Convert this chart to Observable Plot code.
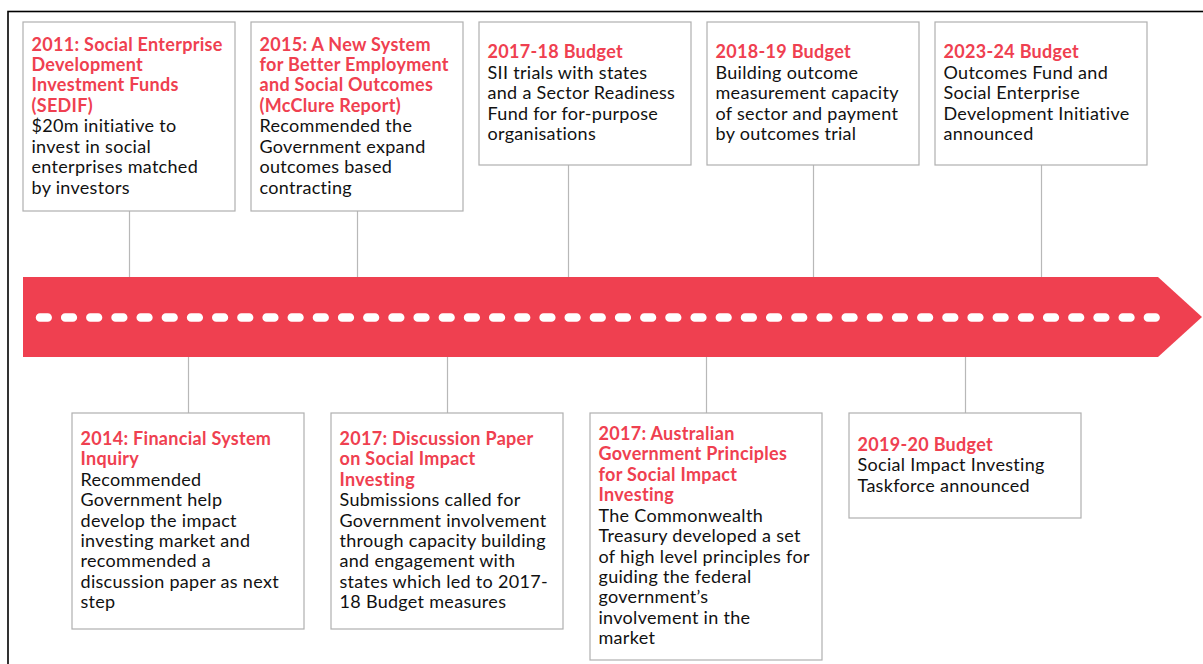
<!DOCTYPE html>
<html><head><meta charset="utf-8">
<script src="https://cdn.jsdelivr.net/npm/d3@7"></script>
<script src="https://cdn.jsdelivr.net/npm/@observablehq/plot@0.6"></script>
<style>html,body{margin:0;padding:0;background:#fff;overflow:hidden} svg text{letter-spacing:0.3px}</style>
</head><body><div id="chart"></div>
<script>
// ---- content (chronological) ----
const titles = [
  "2011: Social Enterprise\nDevelopment\nInvestment Funds\n(SEDIF)",
  "2014: Financial System\nInquiry",
  "2015: A New System\nfor Better Employment\nand Social Outcomes\n(McClure Report)",
  "2017: Discussion Paper\non Social Impact\nInvesting",
  "2017-18 Budget",
  "2017: Australian\nGovernment Principles\nfor Social Impact\nInvesting",
  "2018-19 Budget",
  "2019-20 Budget",
  "2023-24 Budget"
];
const bodies = [
  "$20m initiative to\ninvest in social\nenterprises matched\nby investors",
  "Recommended\nGovernment help\ndevelop the impact\ninvesting market and\nrecommended a\ndiscussion paper as next\nstep",
  "Recommended the\nGovernment expand\noutcomes based\ncontracting",
  "Submissions called for\nGovernment involvement\nthrough capacity building\nand engagement with\nstates which led to 2017-\n18 Budget measures",
  "SII trials with states\nand a Sector Readiness\nFund for for-purpose\norganisations",
  "The Commonwealth\nTreasury developed a set\nof high level principles for\nguiding the federal\ngovernment\u2019s\ninvolvement in the\nmarket",
  "Building outcome\nmeasurement capacity\nof sector and payment\nby outcomes trial",
  "Social Impact Investing\nTaskforce announced",
  "Outcomes Fund and\nSocial Enterprise\nDevelopment Initiative\nannounced"
];
const sides = ["top","bottom","top","bottom","top","bottom","top","bottom","top"];

// ---- layout (drawing geometry, px) ----
const W = 1203, H = 664;
const arrow = {x0: 23, x1: 1158, tip: 1202, yTop: 277, yBot: 357};
const topRow = {x0: 23, step: 228, w: 212, y: 22, h: [189,189,143,143,143], stem: [129,357,568,813,1041]};
const botRow = {x0: 72, step: 259, w: 232, y: 413, h: [216,216,247,105]};
const LH = 20.45, FS = 18;
const RED = "#ef4050";

let ti = 0, bi = 0;
const events = titles.map((t, i) => {
  const nt = t.split("\n").length, nb = bodies[i].split("\n").length;
  let box;
  if (sides[i] === "top") {
    const k = ti++;
    const x1 = topRow.x0 + k*topRow.step;
    box = {x1, x2: x1 + topRow.w, y1: topRow.y, y2: topRow.y + topRow.h[k], stem: topRow.stem[k], sy1: topRow.y + topRow.h[k], sy2: arrow.yTop};
  } else {
    const k = bi++;
    const x1 = botRow.x0 + k*botRow.step;
    box = {x1, x2: x1 + botRow.w, y1: botRow.y, y2: botRow.y + botRow.h[k], stem: x1 + botRow.w/2, sy1: arrow.yBot, sy2: botRow.y};
  }
  const cy = (box.y1 + box.y2)/2;
  const top = cy - (nt + nb)*LH/2 + 0.8;
  return {title: t, body: bodies[i], ...box, tx: box.x1 + 8, ty: top, by: top + nt*LH};
});

const arrowPts = [
  {x: arrow.x0, a: arrow.yTop, b: arrow.yBot},
  {x: arrow.x1, a: arrow.yTop, b: arrow.yBot},
  {x: arrow.tip, a: (arrow.yTop+arrow.yBot)/2, b: (arrow.yTop+arrow.yBot)/2}
];
const cy = (arrow.yTop+arrow.yBot)/2;

const chart = Plot.plot({
  width: W, height: H, margin: 0,
  x: {domain: [0, W], range: [0, W], axis: null},
  y: {domain: [0, H], range: [0, H], axis: null},
  style: {fontFamily: "Lato, sans-serif", background: "#fff"},
  marks: [
    // outer frame
    Plot.rect([{}], {x1: 8, x2: W + 10, y1: 11.5, y2: H + 10, fill: "none", stroke: "#000", strokeWidth: 1.6}),
    // stems
    Plot.ruleX(events, {x: "stem", y1: "sy1", y2: "sy2", stroke: "#b8b8b8", strokeWidth: 1.2}),
    // arrow
    Plot.areaY(arrowPts, {x: "x", y1: "a", y2: "b", fill: RED, curve: "linear"}),
    Plot.ruleY([cy], {x1: 40, x2: 1156, stroke: "#fff", strokeWidth: 8.5, strokeLinecap: "round", strokeDasharray: "7.7,17.48"}),
    // boxes
    Plot.rect(events, {x1: "x1", x2: "x2", y1: "y1", y2: "y2", fill: "#fff", stroke: "#b0b0b0", strokeWidth: 1.2}),
    Plot.text(events, {x: "tx", y: "ty", text: "title", textAnchor: "start", lineAnchor: "top", lineHeight: LH/FS, fontSize: FS, fontWeight: "bold", fill: RED}),
    Plot.text(events, {x: "tx", y: "by", text: "body", textAnchor: "start", lineAnchor: "top", lineHeight: LH/FS, fontSize: FS, fill: "#111"})
  ]
});
document.getElementById("chart").appendChild(chart);
</script>
</body></html>
